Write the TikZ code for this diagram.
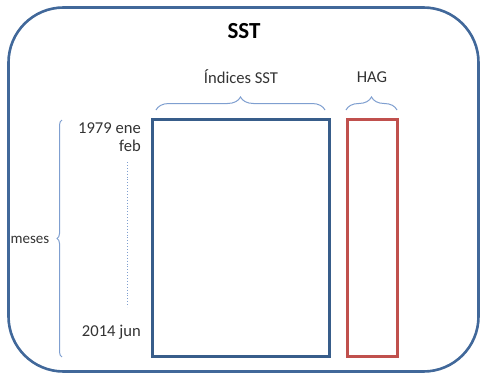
\documentclass[tikz,border=0pt]{standalone}
\usepackage{fontspec}
\setmainfont{Carlito}
\usetikzlibrary{decorations.pathreplacing}
\definecolor{frameblue}{HTML}{41689A}
\definecolor{boxblue}{HTML}{385D8A}
\definecolor{boxred}{HTML}{C0504D}
\definecolor{bracecol}{HTML}{7F9FD0}
\definecolor{txt}{HTML}{333333}
\begin{document}
\begin{tikzpicture}[x=1pt,y=-1pt,
  lbl/.style={text=txt,font=\fontsize{16.6}{18}\selectfont,inner sep=0pt},
  bracestyle/.style={draw=bracecol,line width=1pt,decorate,decoration={brace,amplitude=13pt}},
  colbox/.style={draw,line width=3pt,minimum height=237pt,inner sep=0pt}]
\useasboundingbox (0,0) rectangle (483,375);
\node[draw=frameblue,line width=2.6pt,rounded corners=55pt,minimum width=470pt,minimum height=364pt,inner sep=0pt] (frame) at (243.5,189.5) {};
\node[font=\bfseries\fontsize{23}{25}\selectfont,text=black,inner sep=0pt] (title) at (244,31) {SST};
\node[colbox,draw=boxblue,minimum width=177pt] (sst) at (240.5,237.5) {};
\node[colbox,draw=boxred,minimum width=50pt] (hag) at (372,237.5) {};
\coordinate (b1a) at (156,110);
\coordinate (b1b) at (325,110);
\coordinate (b2a) at (346,110);
\coordinate (b2b) at (397,110);
\coordinate (b3a) at (62,357);
\coordinate (b3b) at (62,120);
\draw[bracestyle] (b1a) -- (b1b);
\draw[bracestyle] (b2a) -- (b2b);
\draw[bracestyle,decoration={brace,amplitude=5pt}] (b3a) -- (b3b);
\node[lbl] (indices) at (241,77) {Índices SST};
\node[lbl] (hagl) at (372,77) {HAG};
\node[lbl,font=\fontsize{15}{17}\selectfont] (meses) at (30,240) {meses};
\node[lbl,anchor=east] (y1) at (141,128) {1979 ene};
\node[lbl,anchor=east] (y2) at (141,146) {feb};
\node[lbl,anchor=east] (y3) at (141,332) {2014 jun};
\coordinate (d1) at (127,162);
\coordinate (d2) at (127,307);
\draw[bracecol,line width=0.9pt,dotted] (d1) -- (d2);
\end{tikzpicture}
\end{document}
